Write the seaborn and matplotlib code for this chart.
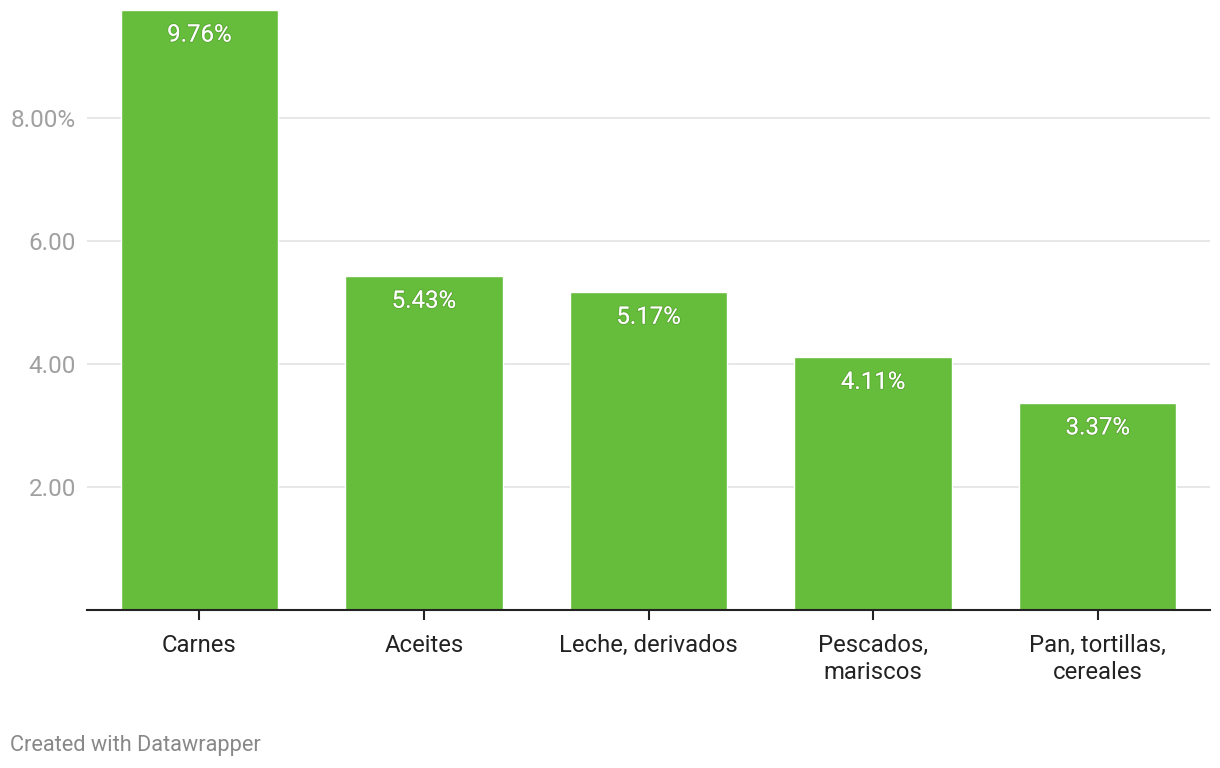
import matplotlib
matplotlib.use("Agg")
import matplotlib.pyplot as plt
import matplotlib.patheffects as pe
import seaborn as sns
import pandas as pd

# datos
categorias = ["Carnes", "Aceites", "Leche, derivados", "Pescados,\nmariscos", "Pan, tortillas,\ncereales"]
valores = [9.76, 5.43, 5.17, 4.11, 3.37]
ticks_y = [2, 4, 6, 8]
etiquetas_y = ["2.00", "4.00", "6.00", "8.00%"]

df = pd.DataFrame({"categoria": categorias, "valor": valores})

sns.set_theme(style="white")
plt.rcParams["font.family"] = ["Roboto", "DejaVu Sans"]

fig = plt.figure(figsize=(12.2, 7.68), dpi=100)
ax = fig.add_axes([87 / 1220, 158 / 768, 1123 / 1220, 600 / 768])

sns.barplot(data=df, x="categoria", y="valor", color="#66bd3b", width=0.7,
            saturation=1, ax=ax, zorder=2)

ax.set_xlim(-0.5, len(categorias) - 0.5)
ax.set_ylim(0, 9.76)
ax.set_yticks(ticks_y)
ax.set_yticklabels(etiquetas_y)
ax.yaxis.grid(True, color="#e3e3e3", linewidth=1.2, zorder=0)
ax.set_axisbelow(True)
ax.tick_params(axis="y", length=0, pad=8, labelsize=17.5, labelcolor="#a0a0a0")
ax.tick_params(axis="x", length=7, width=1.5, color="#222222", pad=10.5,
               labelsize=17.2, labelcolor="#222222", bottom=True)
ax.set_xlabel("")
ax.set_ylabel("")
for s in ["top", "right", "left"]:
    ax.spines[s].set_visible(False)
ax.spines["bottom"].set_color("#222222")
ax.spines["bottom"].set_linewidth(1.5)
ax.spines["bottom"].set_zorder(3)

# etiquetas de valor dentro de las barras
for i, v in enumerate(valores):
    ax.annotate(f"{v:.2f}%", (i, v), xytext=(0, -25), textcoords="offset pixels",
                ha="center", va="center", fontsize=17.3, color="white", zorder=4,
                path_effects=[pe.withStroke(linewidth=1.5, foreground=(0, 0, 0, 0.1))])

fig.text(10 / 1220, 1 - 745 / 768, "Created with Datawrapper", fontsize=15.7,
         color="#888888", ha="left", va="center")

fig.savefig("out.png", dpi=100)
